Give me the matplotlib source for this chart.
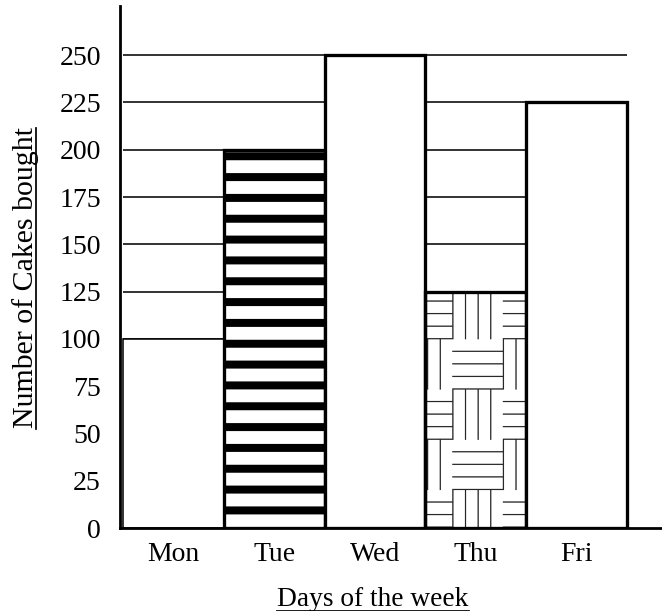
import numpy as np
import matplotlib
matplotlib.use('Agg')
import matplotlib.pyplot as plt
from matplotlib.lines import Line2D

# values
days = ['Mon', 'Tue', 'Wed', 'Thu', 'Fri']
cakes = [100, 200, 250, 125, 225]
y_ticks = [0, 25, 50, 75, 100, 125, 150, 175, 200, 225, 250]

plt.rcParams['font.family'] = ['Liberation Serif', 'DejaVu Serif']
plt.rcParams['hatch.linewidth'] = 4.6

DPI = 125
fig = plt.figure(figsize=(662 / DPI, 611 / DPI), dpi=DPI)
ax = fig.add_axes([120 / 662, 83 / 611, 542 / 662, 522 / 611])

x = np.arange(len(days))

# grid lines sit behind the white bars
ax.hlines(y_ticks[1:], x[0] - 0.5, x[-1] + 0.5, color='black', lw=0.9, zorder=1)

bars = ax.bar(x, cakes, width=1.0, color='white', edgecolor='black',
              linewidth=1.9, zorder=2)
bars[0].set_linewidth(0.9)
bars[1].set_hatch('-')

# basket weave texture for Thursday
thu = bars[3]
thu.set_facecolor('none')
cell = 40
nrows, ncols = 5, 3
cell_h = 26.5
tex = np.ones((nrows * cell, ncols * cell))
for r in range(nrows):
    for c in range(ncols):
        block = tex[r * cell:(r + 1) * cell, c * cell:(c + 1) * cell]
        if (r + c) % 2:
            block[:, ::10] = 0.15
        else:
            block[::10, :] = 0.15
x0 = thu.get_x() - 0.23
y0 = -6.5
im = ax.imshow(tex, cmap='gray', vmin=0, vmax=1, origin='lower',
               extent=(x0, x0 + ncols * 0.5, y0, y0 + nrows * cell_h),
               aspect='auto', zorder=1.5)
im.set_clip_path(thu)

ax.set_xlim(-0.53, 4.85)
ax.set_ylim(0, 276)
ax.set_xticks(x)
ax.set_xticklabels(days)
ax.set_yticks(y_ticks)
ax.tick_params(axis='both', length=0, labelsize=16)
ax.tick_params(axis='y', pad=11)
ax.tick_params(axis='x', pad=8)

for side in ['top', 'right']:
    ax.spines[side].set_visible(False)
ax.spines['left'].set_linewidth(1.6)
ax.spines['bottom'].set_linewidth(1.6)

ylab = fig.text(26 / 662, 1 - 278 / 611, 'Number of Cakes bought',
                rotation=90, ha='center', va='center', fontsize=17.2)
xlab = fig.text(373 / 662, 1 - 600 / 611, 'Days of the week',
                ha='center', va='center', fontsize=15.8)

# underline both axis titles, close to the baseline like the scan
fig.canvas.draw()
inv = fig.transFigure.inverted()
bb = ylab.get_window_extent().transformed(inv)
ux = bb.x1 - 0.14 * bb.width
fig.add_artist(Line2D([ux, ux], [bb.y0, bb.y1], color='black', lw=1.0))
bb = xlab.get_window_extent().transformed(inv)
uy = bb.y0 + 0.07 * bb.height
fig.add_artist(Line2D([bb.x0, bb.x1], [uy, uy], color='black', lw=1.0))

fig.savefig('out.png', dpi=DPI)
